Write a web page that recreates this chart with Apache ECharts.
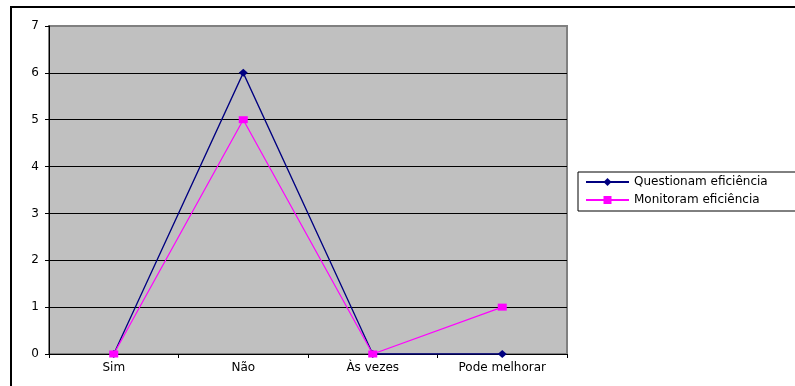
<!DOCTYPE html>
<html>
<head>
<meta charset="utf-8">
<script src="https://cdn.jsdelivr.net/npm/echarts@6/dist/echarts.min.js"></script>
<style>
  html, body { margin: 0; padding: 0; background: #fff; }
  #chart { width: 795px; height: 386px; }
</style>
</head>
<body>
<div id="chart"></div>
<script>
// Answers per category
const categories = ['Sim', 'Não', 'Às vezes', 'Pode melhorar'];
const questionam = [0, 6, 0, 0];
const monitoram = [0, 5, 0, 1];
const seriesNames = ['Questionam eficiência', 'Monitoram eficiência'];

const FONT = 'DejaVu Sans';
const chart = echarts.init(document.getElementById('chart'), null, { renderer: 'canvas' });

chart.setOption({
  animation: false,
  backgroundColor: '#ffffff',
  graphic: [{
    // outer frame of the chart area
    type: 'rect',
    shape: { x: 11, y: 7, width: 900, height: 500 },
    style: { fill: 'none', stroke: '#000', lineWidth: 2 },
    z: -10
  }],
  grid: {
    left: 49, top: 26, width: 518, height: 328,
    show: true,
    backgroundColor: '#C0C0C0',
    borderColor: '#808080',
    borderWidth: 2
  },
  legend: {
    orient: 'vertical',
    left: 578, top: 172,
    padding: [4, 80, 5, 7],
    itemWidth: 43, itemHeight: 10, itemGap: 6,
    borderColor: '#000', borderWidth: 1,
    backgroundColor: '#fff',
    textStyle: { fontFamily: FONT, fontSize: 12, color: '#000' },
    data: seriesNames
  },
  xAxis: {
    type: 'category',
    data: categories,
    boundaryGap: true,
    axisLine: { lineStyle: { color: '#000', width: 1 } },
    axisTick: { show: true, length: 4, lineStyle: { color: '#000' } },
    axisLabel: { margin: 8, fontFamily: FONT, fontSize: 12, color: '#000' },
    splitLine: { show: false }
  },
  yAxis: {
    type: 'value',
    min: 0, max: 7, interval: 1,
    axisLine: { show: true, lineStyle: { color: '#000', width: 1 } },
    axisTick: { show: true, length: 4, lineStyle: { color: '#000' } },
    axisLabel: { margin: 10, fontFamily: FONT, fontSize: 12, color: '#000' },
    splitLine: { show: true, showMaxLine: false, lineStyle: { color: '#000', width: 1 } }
  },
  series: [
    {
      name: seriesNames[0],
      type: 'line',
      data: questionam,
      symbol: 'diamond',
      symbolSize: [9, 8],
      color: '#000080',
      itemStyle: { color: '#000080' },
      lineStyle: { color: '#000080', width: 1.3 },
      z: 3
    },
    {
      name: seriesNames[1],
      type: 'line',
      data: monitoram,
      symbol: 'rect',
      symbolSize: [9, 7],
      color: '#FF00FF',
      itemStyle: { color: '#FF00FF' },
      lineStyle: { color: '#FF00FF', width: 1.2 },
      z: 4
    }
  ]
});
</script>
</body>
</html>
